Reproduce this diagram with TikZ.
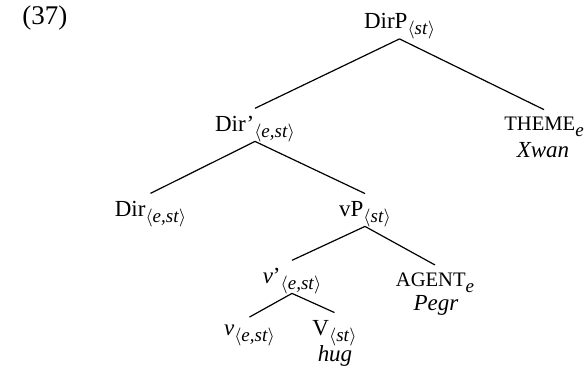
\documentclass[tikz,border=0pt]{standalone}
\usepackage{fontspec}
\setmainfont{Liberation Serif}
\newcommand{\lowsub}[1]{\raisebox{-3pt}{\fontsize{9.5}{11}\selectfont #1}}
\newcommand{\semty}[1]{\lowsub{$\langle$\textit{#1}$\rangle$}}
\newcommand{\fakesc}[1]{{\fontsize{10.3}{12}\selectfont #1}}

\begin{document}
\begin{tikzpicture}[x=0.5pt,y=-0.5pt,font=\fontsize{11.5}{13.8}\selectfont,
  cat/.style={anchor=base,inner xsep=0pt,inner ysep=3.5pt,text depth=1.5pt},
  word/.style={anchor=base,inner sep=0pt,font=\fontsize{11.5}{13.8}\selectfont\itshape},
  branch/.style={line width=0.6pt}]
  \useasboundingbox (0,0) rectangle (585,372);
  \node[anchor=base west,inner sep=0pt,font=\fontsize{13.5}{16}\selectfont] (exnum) at (22,24) {(37)};
  % categories
  \node[cat] (dirp) at (399.5,28.5) {DirP\semty{st}};
  \node[cat] (dirbar) at (255,131) {Dir'\semty{e,st}};
  \node[cat] (theme) at (544,130.5) {\fakesc{THEME}\lowsub{\textit{e}}};
  \node[cat] (dir) at (150.5,216) {Dir\semty{e,st}};
  \node[cat] (vp) at (365,216) {vP\semty{st}};
  \node[cat] (agent) at (435,286) {\fakesc{AGENT}\lowsub{\textit{e}}};
  \node[cat] (vbar) at (292,283) {\textit{v}'\semty{e,st}};
  \node[cat] (vhead) at (249.5,335) {\textit{v}\semty{e,st}};
  \node[cat] (verb) at (334.5,335) {V\semty{st}};
  % words
  \node[word] (xwan) at (543,157.5) {Xwan};
  \node[word] (pegr) at (436,310) {Pegr};
  \node[word] (hug) at (335,361) {hug};
  % branches
  \foreach \a/\b in {dirp/dirbar,dirp/theme,dirbar/dir,dirbar/vp,vp/vbar,vp/agent,vbar/vhead,vbar/verb}
    \draw[branch] (\a.south) -- (\b.north);
\end{tikzpicture}
\end{document}
